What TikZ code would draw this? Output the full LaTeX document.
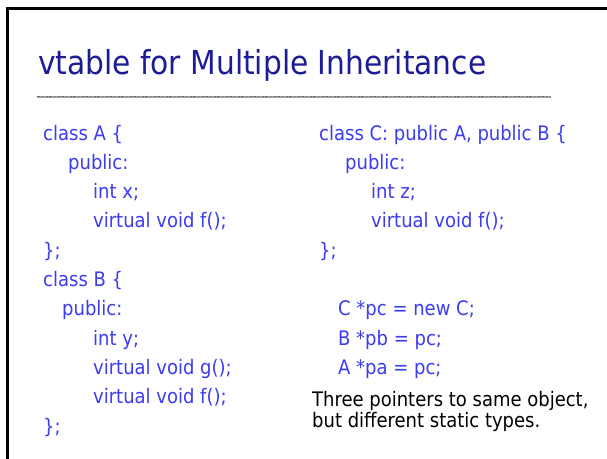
\documentclass[tikz,border=0pt]{standalone}
\usepackage{fontspec}
\setmainfont{DejaVu Sans Condensed}
\definecolor{titleblue}{HTML}{1C1C96}
\definecolor{codeblue}{HTML}{3C3CF0}
\definecolor{rulegray}{HTML}{A0A0A0}
\definecolor{ruledark}{HTML}{6E6E6E}
\begin{document}
\begin{tikzpicture}[x=1pt,y=-1pt,
  code/.style={anchor=base west,inner sep=0pt,text=codeblue,font=\fontsize{20}{24}\selectfont},
  note/.style={anchor=base west,inner sep=0pt,text=black,font=\fontsize{20}{24}\selectfont},
  titletext/.style={anchor=base west,inner sep=0pt,text=titleblue,font=\fontsize{33}{38}\selectfont}]
\useasboundingbox (0,0) rectangle (607,458);
\clip (0,0) rectangle (607,458);
\fill[white] (0,0) rectangle (607,458);
% frame
\draw[line width=2.7pt] (7.3,470) -- (7.3,8.7) -- (620,8.7);
% title
\node[titletext] (title) at (38,74) {vtable for Multiple Inheritance};
\coordinate (rl) at (37,96.5);
\coordinate (rr) at (551,96.5);
\draw[rulegray,line width=2pt] (rl) -- (rr);
\draw[ruledark,line width=1.6pt,dash pattern=on 3pt off 2pt on 1pt off 2.5pt on 2pt off 1.5pt] (rl) -- (rr);
% left column
\def\p{29.3}
\node[code] (a1) at (43,140) {class A \{};
\node[code] (a2) at (68,140+1*\p) {public:};
\node[code] (a3) at (93,140+2*\p) {int x;};
\node[code] (a4) at (93,140+3*\p) {virtual void f();};
\node[code] (a5) at (43,140+4*\p) {\};};
\node[code] (b1) at (43,140+5*\p) {class B \{};
\node[code] (b2) at (62,140+6*\p) {public:};
\node[code] (b3) at (93,140+7*\p) {int y;};
\node[code] (b4) at (93,140+8*\p) {virtual void g();};
\node[code] (b5) at (93,140+9*\p) {virtual void f();};
\node[code] (b6) at (43,140+10*\p) {\};};
% right column
\node[code] (c1) at (319,140) {class C: public A, public B \{};
\node[code] (c2) at (345,140+1*\p) {public:};
\node[code] (c3) at (371,140+2*\p) {int z;};
\node[code] (c4) at (371,140+3*\p) {virtual void f();};
\node[code] (c5) at (319,140+4*\p) {\};};
\node[code] (p1) at (338,140+6*\p) {C *pc = new C;};
\node[code] (p2) at (338,140+7*\p) {B *pb = pc;};
\node[code] (p3) at (338,140+8*\p) {A *pa = pc;};
\node[note] (n1) at (312,406.5) {Three pointers to same object,};
\node[note] (n2) at (312,427.5) {but different static types.};
\end{tikzpicture}
\end{document}
